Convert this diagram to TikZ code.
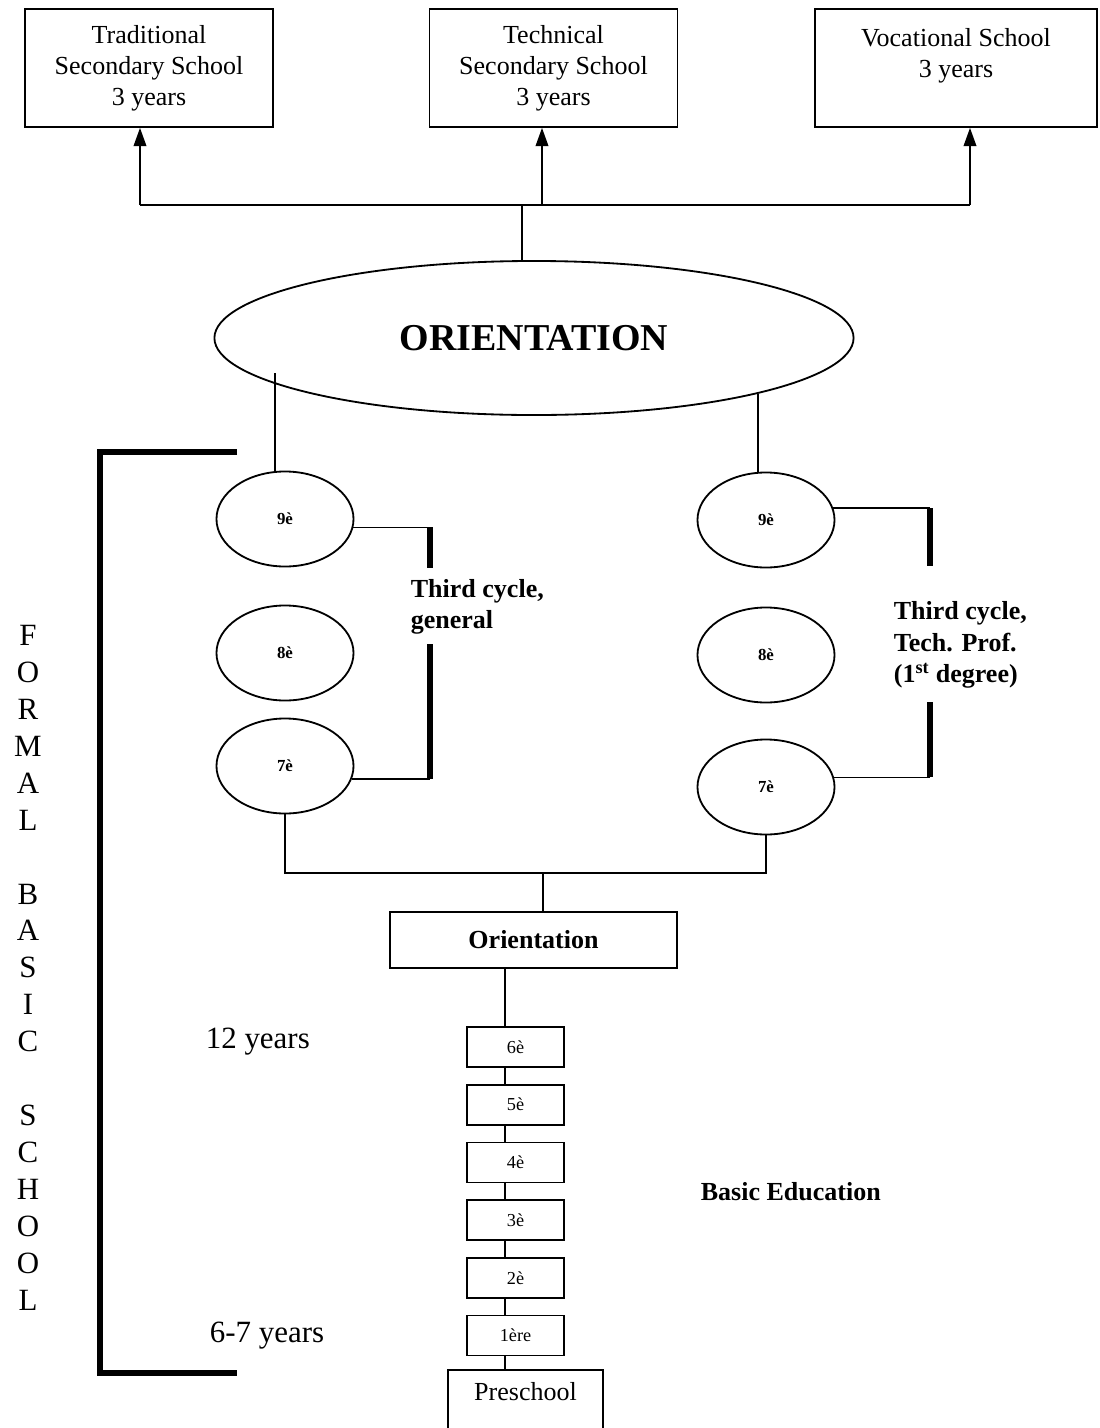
\documentclass[tikz,border=0pt]{standalone}
\usepackage{fontspec}
\setmainfont{Liberation Serif}
\usetikzlibrary{shapes.geometric,arrows.meta,positioning,calc}

\begin{document}
\begin{tikzpicture}[
    x=0.025cm, y=-0.025cm,
    node distance=0.4cm,
    line width=1.2pt,
    box/.style={rectangle,draw,line width=1.2pt,minimum width=6.2cm,
                minimum height=2.95cm,align=center,
                font=\fontsize{18.5}{22}\selectfont},
    oval/.style={ellipse,draw,line width=1.3pt,minimum width=3.425cm,
                 minimum height=2.375cm,font=\fontsize{12}{14}\selectfont\bfseries},
    gradebox/.style={rectangle,draw,line width=1.2pt,minimum width=2.425cm,
                     minimum height=1.0cm,inner sep=0pt,
                     font=\fontsize{13}{15}\selectfont},
    link/.style={line width=1.2pt},
    arr/.style={-{Triangle[length=13pt,width=9pt]},line width=1.2pt},
    bar/.style={line width=3.6pt},
    cyclelabel/.style={font=\fontsize{18.5}{22.5}\selectfont\bfseries,
                       align=left,anchor=west,inner sep=0pt},
    age/.style={font=\fontsize{22}{26}\selectfont,anchor=west,inner sep=0pt}
  ]
    \useasboundingbox (0,0) rectangle (1099,1428);

    % upper level schools
    \node[box] (trad) at (149,68) {Traditional\\Secondary School\\3 years};
    \node[box] (tech) at (553.5,68) {Technical\\Secondary School\\3 years};
    \node[box,minimum width=7.05cm] (voc) at (956,68) {Vocational School\\3 years\\\mbox{}};

    \node[ellipse,draw,line width=1.3pt,minimum width=15.975cm,minimum height=3.85cm,
          font=\fontsize{27}{31}\selectfont\bfseries] (orient) at (534,338) {ORIENTATION};

    \coordinate (jl) at (140,205);
    \coordinate (jm) at (542,205);
    \coordinate (jr) at (970,205);
    \coordinate (hub) at (522,205);
    \draw[link] (jl) -- (jr);
    \draw[arr] (jl) -- (jl |- trad.south);
    \draw[arr] (jm) -- (jm |- tech.south);
    \draw[arr] (jr) -- (jr |- voc.south);
    \draw[link] (hub) -- (hub |- orient.north);

    % third cycle, two branches
    \node[oval] (nineL)  at (285,519) {9è};
    \node[oval] (eightL) at (285,653) {8è};
    \node[oval] (sevenL) at (285,766) {7è};
    \node[oval] (nineR)  at (766,520) {9è};
    \node[oval] (eightR) at (766,655) {8è};
    \node[oval] (sevenR) at (766,787) {7è};

    \coordinate (ol) at (275,373);
    \coordinate (or) at (758,394);
    \draw[link] (ol) -- (ol |- nineL.north);
    \draw[link] (or) -- (or |- nineR.north);

    \coordinate (gx) at (430,0);
    \draw[link] (nineL.-7) -- (nineL.-7 -| gx) coordinate (gt);
    \draw[bar] (gt) -- ++(0,41);
    \draw[link] (sevenL.-11) -- (sevenL.-11 -| gx) coordinate (gb);
    \draw[bar] (gb) -- ++(0,-135);
    \node[cyclelabel] (genlab) at (410,607) {Third cycle,\\general};

    \coordinate (tx) at (930,0);
    \draw[link] (nineR.10) -- (nineR.10 -| tx) coordinate (tt);
    \draw[bar] (tt) -- ++(0,58);
    \draw[link] (sevenR.8) -- (sevenR.8 -| tx) coordinate (tb);
    \draw[bar] (tb) -- ++(0,-75);
    \node[cyclelabel] (techlab) at (893,645) {Third cycle,\\Tech. Prof.\\(1\textsuperscript{st} degree)};

    \coordinate (jb) at (543,873);
    \draw[link] (sevenL.south) |- (jb) -| (sevenR.south);

    % basic education
    \node[rectangle,draw,line width=1.2pt,minimum width=7.175cm,minimum height=1.4cm,
          font=\fontsize{18.5}{22}\selectfont\bfseries] (ori) at (533.5,940) {Orientation};
    \draw[link] (jb) -- (jb |- ori.north);

    \node[gradebox] (g6) at (515.5,1047) {6è};
    \node[gradebox,below=of g6] (g5) {5è};
    \node[gradebox,below=of g5] (g4) {4è};
    \node[gradebox,below=of g4] (g3) {3è};
    \node[gradebox,below=of g3] (g2) {2è};
    \node[gradebox,below=of g2] (g1) {1ère};
    \node[rectangle,draw,line width=1.2pt,minimum width=3.875cm,anchor=north,
          inner ysep=9pt,text depth=40pt,font=\fontsize{18.5}{22}\selectfont] (pre) at (525.5,1369) {Preschool};

    \coordinate (sx) at (505,0);
    \draw[link] (ori.south -| sx) -- (g6.north -| sx);
    \foreach \a/\b in {g6/g5,g5/g4,g4/g3,g3/g2,g2/g1,g1/pre}
      \draw[link] (\a.south -| sx) -- (\b.north -| sx);

    \node[age] (y12) at (205,1042) {12 years};
    \node[age] (y6) at (209,1336) {6-7 years};
    \node[font=\fontsize{18.5}{22}\selectfont\bfseries,anchor=west,inner sep=0pt]
      (basic) at (700,1192) {Basic Education};

    % formal basic school bracket
    \coordinate (bt) at (237,452);
    \coordinate (bx) at (100,900);
    \coordinate (bb) at (237,1373);
    \draw[bar,line join=miter] (bt) -| (bx) |- (bb);
    \node[font=\fontsize{22}{26.3}\selectfont,align=center,anchor=north,inner sep=0pt]
      (fbs) at (28,624) {F\\O\\R\\M\\A\\L\\[26.3pt]B\\A\\S\\I\\C\\[26.3pt]S\\C\\H\\O\\O\\L};
\end{tikzpicture}
\end{document}
